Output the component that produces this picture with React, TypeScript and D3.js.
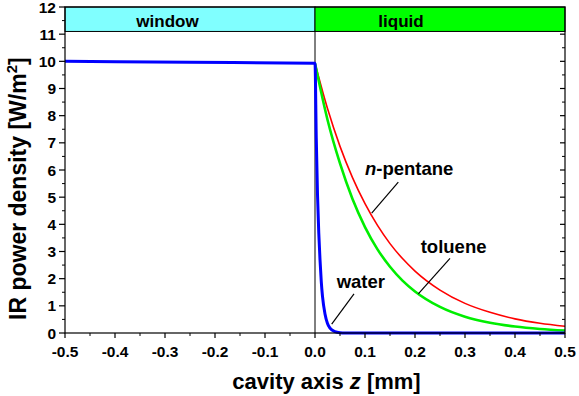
import React from "react";
import * as d3 from "d3";

const W = 579;
const H = 396;

const waterZ = [-0.5, -0.25, 0, 0.0025, 0.005, 0.0075, 0.01, 0.0125, 0.015, 0.02, 0.025, 0.03, 0.04, 0.05, 0.06, 0.1, 0.5];
const waterI = [10.0, 9.97, 9.93, 7.2, 5.1, 3.7, 2.7, 1.9, 1.35, 0.7, 0.35, 0.18, 0.05, 0.01, 0, 0, 0];

const liquidZ = [0, 0.025, 0.05, 0.075, 0.1, 0.125, 0.15, 0.175, 0.2, 0.25, 0.3, 0.35, 0.4, 0.45, 0.5];
const pentaneI = [9.93, 8.26, 6.87, 5.72, 4.76, 3.96, 3.29, 2.74, 2.28, 1.58, 1.09, 0.76, 0.52, 0.36, 0.25];
const tolueneI = [9.93, 7.85, 6.24, 4.93, 3.9, 3.08, 2.44, 1.93, 1.53, 0.96, 0.6, 0.38, 0.24, 0.15, 0.09];

const xTicks = [-0.5, -0.4, -0.3, -0.2, -0.1, 0.0, 0.1, 0.2, 0.3, 0.4, 0.5];
const xTickLabels = ["-0.5", "-0.4", "-0.3", "-0.2", "-0.1", "0.0", "0.1", "0.2", "0.3", "0.4", "0.5"];
const yTicks = [0, 1, 2, 3, 4, 5, 6, 7, 8, 9, 10, 11, 12];

const bandTop = 12;
const bandBottom = 11.1;
const bands = [
  { label: "window", from: -0.5, to: 0, color: "#80ffff", labelZ: -0.045 },
  { label: "liquid", from: 0, to: 0.5, color: "#00ff00", labelZ: -0.078 },
];

const FONT = "Arial, 'Liberation Sans', Helvetica, sans-serif";

export default function App() {
  const x = d3.scaleLinear().domain([-0.5, 0.5]).range([65, 565]);
  const y = d3.scaleLinear().domain([0, 12]).range([333, 7]);

  const line = d3
    .line<[number, number]>()
    .x((d) => x(d[0]))
    .y((d) => y(d[1]))
    .curve(d3.curveMonotoneX);

  const water = line(waterZ.map((z, i) => [z, waterI[i]]) as [number, number][]);
  const pentane = line(liquidZ.map((z, i) => [z, pentaneI[i]]) as [number, number][]);
  const toluene = line(liquidZ.map((z, i) => [z, tolueneI[i]]) as [number, number][]);

  const xMinor = d3.range(-0.45, 0.5, 0.1);
  const yMinor = d3.range(0.5, 12, 1);

  const x0 = x(-0.5);
  const x1 = x(0.5);
  const yB = y(0);
  const yT = y(12);

  const leaders = [
    { label: "pentane", z1: 0.1666, v1: 5.55, z2: 0.1134, v2: 4.41 },
    { label: "toluene", z1: 0.27, v1: 2.75, z2: 0.2066, v2: 1.44 },
    { label: "water", z1: 0.078, v1: 1.44, z2: 0.0334, v2: 0.33 },
  ];

  return (
    <svg
      width={W}
      height={H}
      style={{ position: "absolute", left: 0, top: 0, background: "#fff" }}
      fontFamily={FONT}
      fontWeight="bold"
    >
      {/* bands */}
      {bands.map((b) => (
        <g key={b.label}>
          <rect
            x={x(b.from)}
            y={y(bandTop)}
            width={x(b.to) - x(b.from)}
            height={y(bandBottom) - y(bandTop)}
            fill={b.color}
            stroke="#000"
            strokeWidth={1}
          />
          <text
            x={(x(b.from) + x(b.to)) / 2 + x(b.labelZ) - x(0)}
            y={26.5}
            textAnchor="middle"
            fontSize={17}
            fill="#000"
          >
            {b.label}
          </text>
        </g>
      ))}

      {/* vertical interface line */}
      <line x1={x(0)} x2={x(0)} y1={y(bandBottom)} y2={yB} stroke="#000" strokeWidth={1} />

      {/* curves */}
      <path d={pentane || ""} fill="none" stroke="#ff0000" strokeWidth={1.6} />
      <path d={toluene || ""} fill="none" stroke="#00ee00" strokeWidth={2.6} />
      <path d={water || ""} fill="none" stroke="#0000ff" strokeWidth={3} />

      {/* frame */}
      <rect x={x0} y={yT} width={x1 - x0} height={yB - yT} fill="none" stroke="#000" strokeWidth={1.2} />

      {/* x ticks */}
      {xTicks.map((t, i) => (
        <g key={"xt" + i}>
          <line x1={x(t)} x2={x(t)} y1={yB} y2={yB + 5} stroke="#000" strokeWidth={1.2} />
          <text x={x(t)} y={357} textAnchor="middle" fontSize={15.5} fill="#000">
            {xTickLabels[i]}
          </text>
        </g>
      ))}
      {xMinor.map((t, i) => (
        <line key={"xm" + i} x1={x(t)} x2={x(t)} y1={yB} y2={yB + 3} stroke="#000" strokeWidth={1} />
      ))}

      {/* y ticks */}
      {yTicks.map((t) => (
        <g key={"yt" + t}>
          <line x1={x0 - 6} x2={x0} y1={y(t)} y2={y(t)} stroke="#000" strokeWidth={1.2} />
          {t <= 11 && (
            <line x1={x1 - 5} x2={x1} y1={y(t)} y2={y(t)} stroke="#000" strokeWidth={1.2} />
          )}
          <text x={56} y={y(t)} dy="0.36em" textAnchor="end" fontSize={15.5} fill="#000">
            {t}
          </text>
        </g>
      ))}
      {yMinor.map((t, i) => (
        <g key={"ym" + i}>
          <line x1={x0 - 3} x2={x0} y1={y(t)} y2={y(t)} stroke="#000" strokeWidth={1} />
          {t < 11 && <line x1={x1 - 3} x2={x1} y1={y(t)} y2={y(t)} stroke="#000" strokeWidth={1} />}
        </g>
      ))}

      {/* leaders */}
      {leaders.map((l) => (
        <line
          key={l.label}
          x1={x(l.z1)}
          y1={y(l.v1)}
          x2={x(l.z2)}
          y2={y(l.v2)}
          stroke="#000"
          strokeWidth={1.2}
        />
      ))}

      {/* curve labels */}
      <text x={x(0.1)} y={y(5.82)} fontSize={18.5} fill="#000">
        <tspan fontStyle="italic">n</tspan>-pentane
      </text>
      <text x={x(0.2114)} y={y(2.93)} fontSize={18.5} fill="#000">
        toluene
      </text>
      <text x={x(0.0434)} y={y(1.65)} fontSize={18.5} fill="#000">
        water
      </text>

      {/* axis titles */}
      <text x={326.5} y={389} textAnchor="middle" fontSize={22} fill="#000">
        cavity axis <tspan fontStyle="italic">z</tspan> [mm]
      </text>
      <text
        transform={`translate(26,320) rotate(-90)`}
        textAnchor="start"
        fontSize={23}
        fill="#000"
      >
        {"IR power density [W/m"}
        <tspan fontSize={15} dy={-9}>
          2
        </tspan>
        <tspan dy={9}>]</tspan>
      </text>
    </svg>
  );
}
